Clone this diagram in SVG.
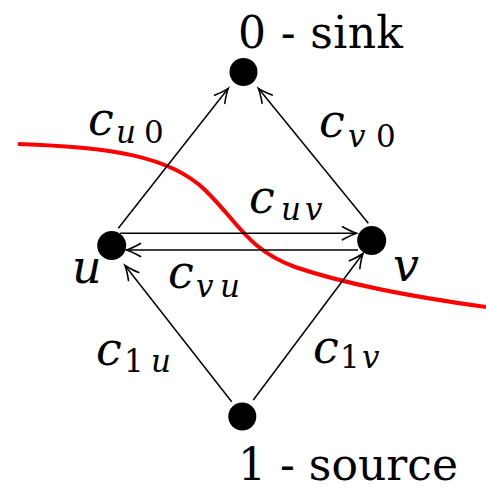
<svg xmlns="http://www.w3.org/2000/svg" width="486" height="489" viewBox="0 0 486 489">
<style>
text{font-family:'DejaVu Serif','Liberation Serif',serif;fill:#000}
.big{font-size:44px}
.m{font-style:italic;font-size:46px}
.s{font-size:31px}
.i{font-style:italic}
.n{font-style:normal}
.e{stroke:#000;stroke-width:1.5;fill:none;marker-end:url(#ah)}
.node{fill:#000}
</style>
<defs>
<marker id="ah" markerUnits="userSpaceOnUse" markerWidth="20" markerHeight="16" viewBox="-16 -8 18 16" refX="0" refY="0" orient="auto">
<path d="M-14,-6.5 Q-5,-1.5 0,0 Q-5,1.5 -14,6.5" fill="none" stroke="#000" stroke-width="1.6" stroke-linecap="round"/>
</marker>
</defs>
<g id="cut">
<path d="M18,144 C110,147 170,156 205,190 C238,222 248,250 295,267 C345,284 420,298 486,307" fill="none" stroke="#ff0000" stroke-width="4"/>
</g>
<g id="connectors">
<line class="e" x1="118.3" y1="228.3" x2="228.3" y2="88.3"/>
<line class="e" x1="368.3" y1="223.3" x2="258.3" y2="88.3"/>
<line class="e" x1="120" y1="233.3" x2="356.5" y2="233.3"/>
<line class="e" x1="358" y1="250" x2="126.5" y2="250"/>
<line class="e" x1="231.7" y1="401.7" x2="125" y2="265.5"/>
<line class="e" x1="253.3" y1="400" x2="363" y2="253.5"/>
</g>
<g id="sink"><circle class="node" cx="243.5" cy="72" r="14"/><text class="big" x="238" y="48" textLength="165">0 - sink</text></g>
<g id="source"><circle class="node" cx="242.3" cy="416.5" r="14"/><text class="big" x="238" y="480" textLength="220">1 - source</text></g>
<g id="u"><circle class="node" cx="111.7" cy="245.5" r="14.5"/><text class="m" x="72" y="283">u</text></g>
<g id="v"><circle class="node" cx="371.7" cy="240.5" r="14.5"/><text class="m" x="393" y="281">v</text></g>
<g id="labels">
<text class="m" x="88" y="135">c<tspan class="s i" x="116" y="143">u</tspan><tspan class="s n" x="144" y="143">0</tspan></text>
<text class="m" x="319" y="137">c<tspan class="s i" x="348" y="146.7">v</tspan><tspan class="s n" x="376" y="146.7">0</tspan></text>
<text class="m" x="249" y="213">c<tspan class="s i" x="281" y="220">u</tspan><tspan class="s i" x="305" y="220">v</tspan></text>
<text class="m" x="168" y="288">c<tspan class="s i" x="196" y="296.7">v</tspan><tspan class="s i" x="220" y="296.7">u</tspan></text>
<text class="m" x="96" y="365">c<tspan class="s n" x="124" y="371.7">1</tspan><tspan class="s i" x="151" y="371.7">u</tspan></text>
<text class="m" x="313" y="363">c<tspan class="s n" x="340" y="368">1</tspan><tspan class="s i" x="362" y="368">v</tspan></text>
</g>
</svg>
